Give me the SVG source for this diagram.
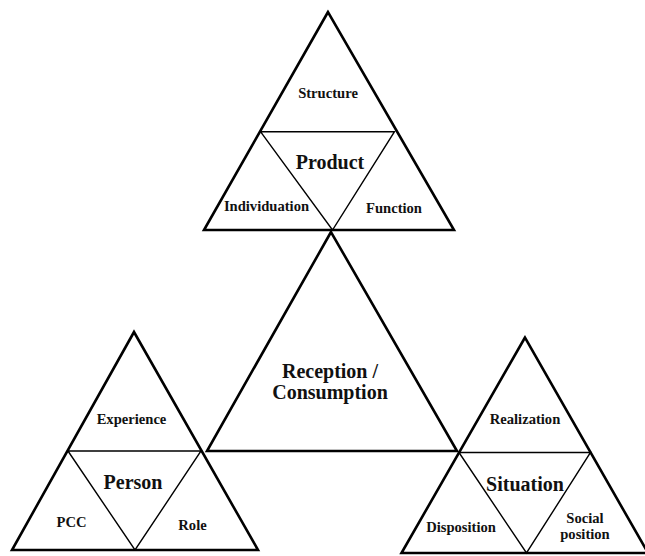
<svg xmlns="http://www.w3.org/2000/svg" width="645" height="556" viewBox="0 0 645 556">
<style>
.outer{fill:none;stroke:#000;stroke-width:2.6;stroke-linejoin:miter}
.inner{fill:none;stroke:#000;stroke-width:1.4}
text{font-family:"Liberation Serif","Times New Roman",serif;font-weight:bold;fill:#111;text-anchor:middle}
.s{font-size:14.6px}
.b{font-size:20px}
</style>
<rect width="645" height="556" fill="#fff"/>
<g id="product">
<polygon class="outer" points="328,12 204,230 454,230"/>
<polyline class="inner" points="260.5,131.7 394.5,131.7 332.5,230 260.5,131.7"/>
<text class="s" x="328" y="97.5">Structure</text>
<text class="b" x="330" y="169">Product</text>
<text class="s" x="266.5" y="211">Individuation</text>
<text class="s" x="394" y="212.5">Function</text>
</g>
<g id="reception">
<polygon class="outer" points="331,232 207,451 457,451"/>
<text class="b" x="330" y="378">Reception /</text>
<text class="b" x="330" y="399">Consumption</text>
</g>
<g id="person">
<polygon class="outer" points="134,332 12,550 258,550"/>
<polyline class="inner" points="68,451 201,451 135,550 68,451"/>
<text class="s" x="131.5" y="424">Experience</text>
<text class="b" x="133" y="489">Person</text>
<text class="s" x="71.5" y="527">PCC</text>
<text class="s" x="192.5" y="530">Role</text>
</g>
<g id="situation">
<polygon class="outer" points="525,337.5 401.5,553 648,553"/>
<polyline class="inner" points="459,452.5 590.5,452.5 526.5,553 459,452.5"/>
<text class="s" x="525" y="424">Realization</text>
<text class="b" x="525" y="490.5">Situation</text>
<text class="s" x="461" y="532">Disposition</text>
<text class="s" x="585" y="522.5">Social</text>
<text class="s" x="585" y="538.5">position</text>
</g>
</svg>
